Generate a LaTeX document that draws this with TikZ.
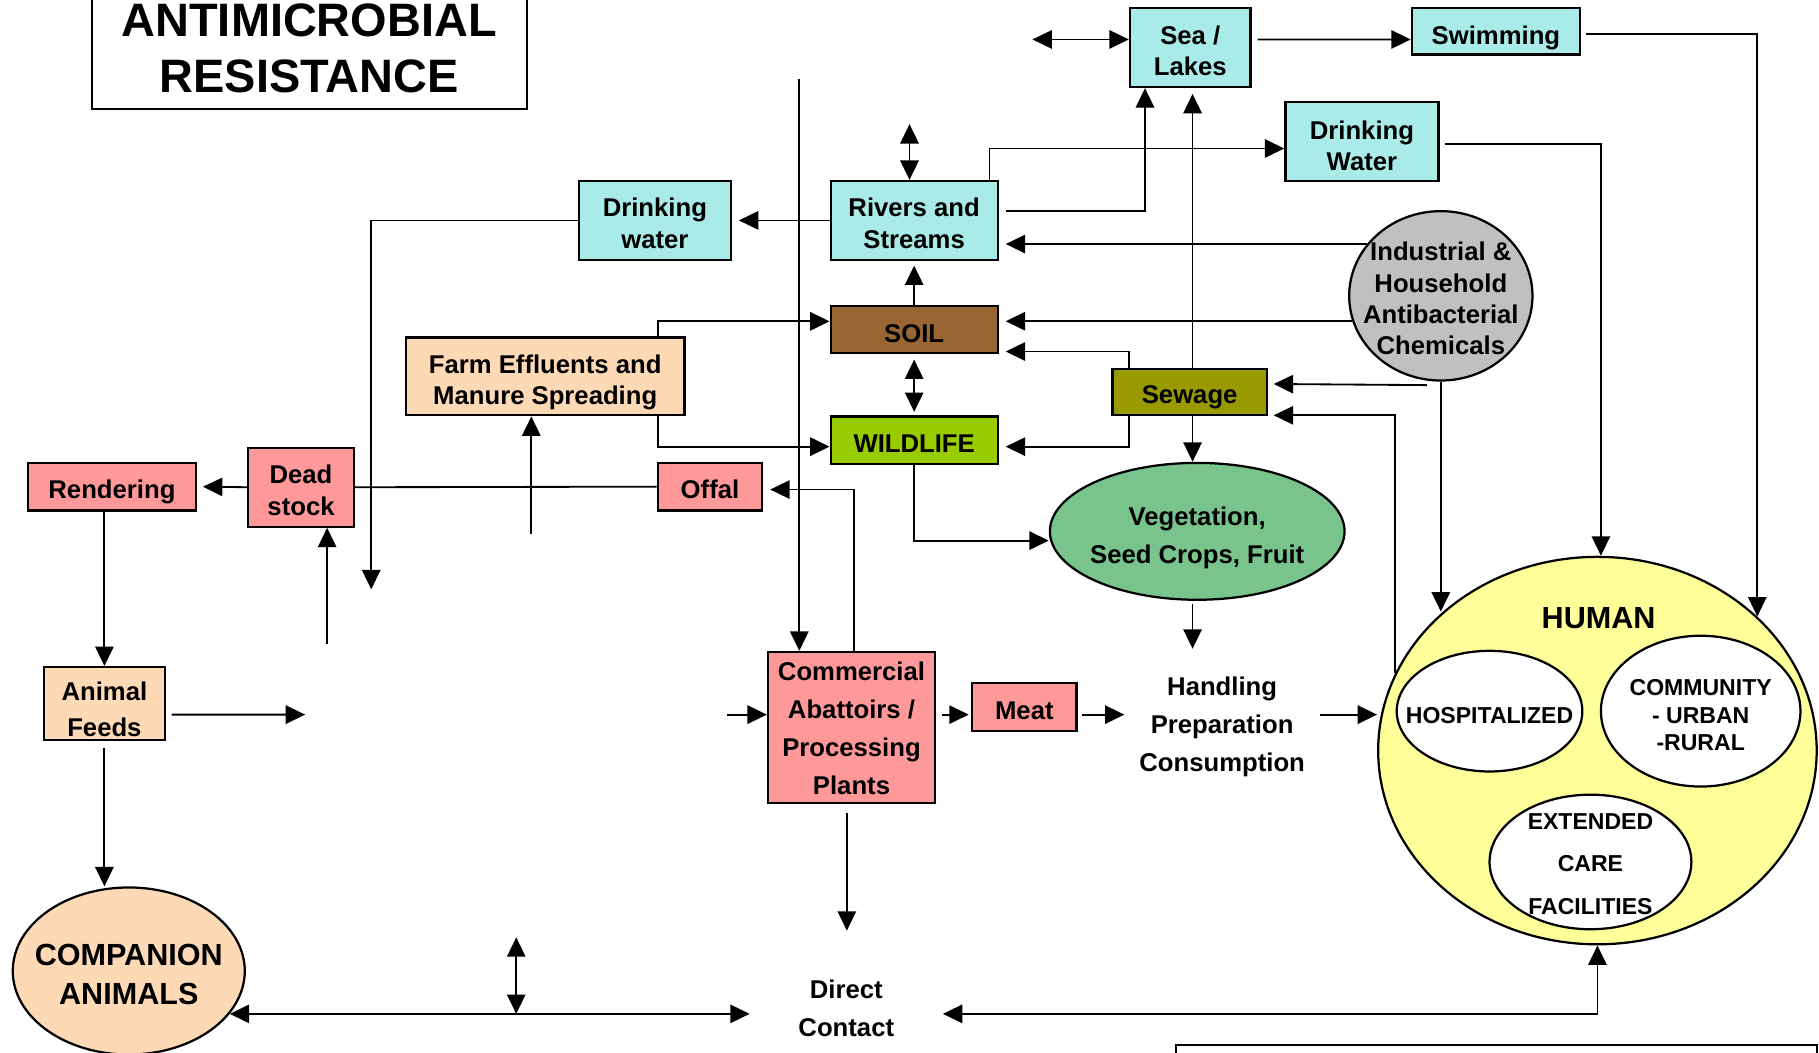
\documentclass[tikz,border=0pt]{standalone}
\usepackage{fontspec}
\setmainfont{Liberation Sans}
\usetikzlibrary{shapes.geometric, arrows.meta}

\definecolor{waterblue}{RGB}{168,235,232}
\definecolor{meatpink}{RGB}{255,153,153}
\definecolor{feedpeach}{RGB}{253,217,181}
\definecolor{soilbrown}{RGB}{153,102,51}
\definecolor{sewageolive}{RGB}{153,153,0}
\definecolor{wildgreen}{RGB}{153,204,0}
\definecolor{vegigreen}{RGB}{120,196,140}
\definecolor{chemgray}{RGB}{192,192,192}
\definecolor{humanyellow}{RGB}{255,255,153}

\begin{document}
\begin{tikzpicture}[
		x=0.2mm, y=-0.2mm, % one unit = one pixel of the layout, y going down
		>={Triangle[length=9.5pt, width=9pt]},
		line width=0.9pt,
		every node/.style={
				font=\bfseries\fontsize{12.6}{15.4}\selectfont,
				align=center,
				inner sep=0pt,
				text depth=0pt % text height below then sets where the baseline sits
			},
		block/.style={
				draw,
				rectangle,
				line width=1.1pt
			},
		wh/.style 2 args={
				minimum width=#1*0.2mm,
				minimum height=#2*0.2mm
			},
		water/.style={block, fill=waterblue},
		meatbox/.style={block, fill=meatpink},
		feedbox/.style={block, fill=feedpeach},
		oval/.style={
				ellipse,
				draw,
				line width=1.1pt,
				inner sep=-8mm % size comes from wh only
			},
		spaced/.style={font=\bfseries\fontsize{12.6}{18.6}\selectfont},
		smalltxt/.style={font=\bfseries\fontsize{11.3}{#1}\selectfont}
	]
	\useasboundingbox (0,0) rectangle (1568,907);

	% Nodes
	\node[block, wh={375}{106}, text height=43.8pt, font=\bfseries\fontsize{23}{27.2}\selectfont] (title) at (266.5,41) {ANTIMICROBIAL\\RESISTANCE};

	\node[water, wh={104}{68}, text height=27.3pt] (sea) at (1026,41) {Sea /\\Lakes};
	\node[water, wh={145}{40}, text height=12.5pt] (swim) at (1289.5,27) {Swimming};
	\node[water, wh={132}{68}, text height=28.5pt] (dwR) at (1174,122) {Drinking\\Water};
	\node[water, wh={144}{68}, text height=27.3pt] (rivers) at (788,190) {Rivers and\\Streams};
	\node[water, wh={131}{68}, text height=27.3pt] (dwL) at (564.5,190) {Drinking\\water};
	\node[oval, fill=chemgray, wh={158}{146}, text height=58pt] (indus) at (1242,255) {Industrial \&\\Household\\Antibacterial\\Chemicals};

	\node[block, fill=soilbrown, wh={144}{40}, text height=12.5pt] (soil) at (788,284) {SOIL};
	\node[feedbox, wh={240}{67}, text height=27.9pt] (farm) at (470,324.5) {Farm Effluents and\\Manure Spreading};
	\node[block, fill=sewageolive, wh={133}{40}, text height=11.4pt] (sewage) at (1025.5,338) {Sewage};
	\node[block, fill=wildgreen, wh={144}{41}, text height=11.9pt] (wild) at (788,379.5) {WILDLIFE};

	\node[meatbox, wh={145}{41}, text height=11.9pt] (rend) at (96.5,419.5) {Rendering};
	\node[meatbox, wh={91}{68}, text height=27.3pt] (dead) at (259.5,420) {Dead\\stock};
	\node[meatbox, wh={90}{41}, text height=11.9pt] (offal) at (612,419.5) {Offal};
	\node[oval, fill=vegigreen, wh={254}{118}, text height=31.9pt, font=\bfseries\fontsize{12.6}{18.8}\selectfont] (veg) at (1032,458) {Vegetation,\\Seed Crops, Fruit};

	\node[feedbox, wh={104}{63}, text height=32.4pt, font=\bfseries\fontsize{12.6}{17.7}\selectfont] (feeds) at (90,606.5) {Animal\\Feeds};
	\node[meatbox, spaced, wh={144}{130}, text height=66pt] (comm) at (734,627) {Commercial\\Abattoirs /\\Processing\\Plants};
	\node[meatbox, wh={90}{41}, text height=11.9pt] (meat) at (883,609.5) {Meat};
	\node[spaced, wh={167}{130}, text height=45.5pt] (handling) at (1053.5,625) {Handling\\Preparation\\Consumption};

	\node[oval, fill=humanyellow, wh={378}{334}] (human) at (1377,647) {};
	\node[text height=10.7pt, font=\bfseries\fontsize{15}{18}\selectfont] (humanLabel) at (1378,532) {HUMAN};
	\node[oval, fill=white, smalltxt=13.4, wh={160}{104}, text height=12.5pt] (hosp) at (1284,613) {HOSPITALIZED};
	\node[oval, fill=white, smalltxt=13.4, wh={172}{130}, text height=38.7pt] (commun) at (1466,613) {COMMUNITY\\- URBAN\\-RURAL};
	\node[oval, fill=white, smalltxt=20.8, wh={174}{116}, text height=51.2pt] (ext) at (1371,743) {EXTENDED\\CARE\\FACILITIES};

	\node[oval, fill=feedpeach, wh={200}{144}, text height=32.4pt, font=\bfseries\fontsize{15}{18.8}\selectfont] (comp) at (111,837) {COMPANION\\ANIMALS};
	\node[spaced, wh={165}{130}, text height=28.5pt] (direct) at (729.5,868) {Direct\\Contact};
	\node[block, wh={552}{60}] (footer) at (1290,931) {};

	% Loose ends
	\coordinate (seaStub) at (890,34);
	\coordinate (riversStub) at (784,107);
	\coordinate (dwLStub) at (320,508);
	\coordinate (commStub) at (689,68);
	\coordinate (farmStub) at (458,460);
	\coordinate (deadStub) at (282,555);
	\coordinate (feedsStub) at (263,616);
	\coordinate (commIn) at (627,616);
	\coordinate (compStub) at (445,808);

	% Paths
	\draw[<->] (seaStub) -- (seaStub -| sea.west);
	\draw[->] ([xshift=1mm, yshift=1.4mm]sea.east) -- ([yshift=-1.4mm]swim.west);
	\draw[->] ([xshift=0.8mm, yshift=-0.4mm]swim.east) -| (human.40);
	\draw[->] ([xshift=1mm, yshift=-0.4mm]dwR.east) -| ([xshift=0.6mm]human.north);
	\draw[->] ([xshift=-1.6mm]rivers.north east) |- ([yshift=-1.2mm]dwR.west);
	\draw[->] ([xshift=1.2mm, yshift=1.6mm]rivers.east) -| ([xshift=-7.8mm]sea.south);
	\draw[->, shorten >=1mm] ([xshift=0.5mm]sewage.north) -- ([xshift=0.5mm]sewage.north |- sea.south);
	\draw[<->] (riversStub) -- (riversStub |- rivers.north);
	\draw[->] (rivers.west) -- ([xshift=1.2mm]dwL.east);
	\draw[->] (dwL.west) -| (dwLStub);
	\draw[->] (commStub) -- (commStub |- comm.north);

	\draw[->, shorten >=1.2mm] (indus.145) -- (rivers.east |- indus.145);
	\draw[->, shorten >=1.2mm] (indus.196) -- (soil.east |- indus.196);
	\draw[->] (soil.north) -- ([yshift=-0.8mm]rivers.south);
	\draw[<->] ([yshift=-1mm]soil.south) -- ([yshift=0.6mm]wild.north);
	\draw[->] ([xshift=19.4mm]farm.north) |- ([yshift=1.4mm]soil.west);
	\draw[->] ([xshift=19.4mm]farm.south) |- ([yshift=-1.1mm]wild.west);
	\draw[->] ([xshift=-10.4mm]sewage.north) |- ([xshift=1.2mm, yshift=-3.8mm]soil.east);
	\draw[->] ([xshift=-10.4mm]sewage.south) |- ([xshift=1.2mm, yshift=-1.1mm]wild.east);
	\draw[->] ([xshift=-2.4mm, yshift=-0.6mm]indus.south) -- ([xshift=1mm, yshift=1.4mm]sewage.east);
	\draw[->] (indus.south) -- (indus.south |- human.138);
	\draw[->] (human.159) |- ([xshift=1mm, yshift=-4mm]sewage.east);
	\draw[->] ([xshift=0.5mm]sewage.south) -- ([xshift=0.5mm]sewage.south |- veg.north);
	\draw[->] (wild.south) |- ([yshift=-1.6mm]veg.west);
	\draw[->] ([xshift=-0.8mm, yshift=-0.6mm]veg.south) -- ([xshift=-0.8mm]veg.south |- handling.north);

	\draw[->] (dead.west) -- ([xshift=1mm]rend.east);
	\draw (dead.east) -- (offal.west);
	\draw[->] (farmStub) -- (farmStub |- farm.south);
	\draw[->] ([xshift=0.4mm]comm.north) |- ([xshift=1.2mm, yshift=-0.5mm]offal.east);
	\draw[->] (deadStub) -- (deadStub |- dead.south);
	\draw[->] (feeds.north |- rend.south) -- (feeds.north);
	\draw[->] ([xshift=1mm, yshift=-1.9mm]feeds.east) -- (feedsStub);
	\draw[->] ([yshift=-1.2mm]feeds.south) -- (feeds.south |- comp.north);

	\draw[->] (commIn) -- (commIn -| comm.west);
	\draw[->] ([xshift=1mm]comm.east |- commIn) -- ([xshift=-0.4mm]meat.west |- commIn);
	\draw[->] ([xshift=0.8mm]meat.east |- commIn) -- (handling.west |- commIn);
	\draw[->] (handling.east |- commIn) -- (human.west |- commIn);
	\draw[->] ([xshift=-0.8mm, yshift=-1.6mm]comm.south) -- ([xshift=-0.8mm]comm.south |- direct.north);

	\draw[<->] (comp.-23) -- (comp.-23 -| direct.west);
	\draw[<->] (compStub) -- (compStub |- comp.-23);
	\draw[<->] (human.south) |- (comp.-23 -| direct.east);
\end{tikzpicture}
\end{document}
